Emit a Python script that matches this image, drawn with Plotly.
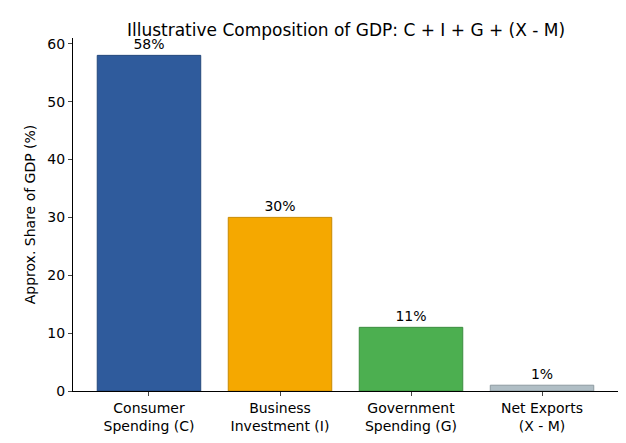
import plotly.graph_objects as go

categories = ["Consumer<br>Spending (C)", "Business<br>Investment (I)", "Government<br>Spending (G)", "Net Exports<br>(X - M)"]
values = [58, 30, 11, 1]
labels = ["58%", "30%", "11%", "1%"]
colors = ["#2f5b9c", "#f5a800", "#4caf50", "#b0bec5"]
edges = ["#24487c", "#c98a00", "#3b8c3f", "#8d9aa1"]

fig = go.Figure(go.Bar(
    x=categories, y=values, text=labels, textposition="outside",
    marker=dict(color=colors, line=dict(color=edges, width=1)),
    textfont=dict(size=14, color="black"), cliponaxis=False))

fig.update_layout(
    width=626, height=443, plot_bgcolor="white", paper_bgcolor="white",
    font=dict(family="DejaVu Sans", size=14, color="black"),
    margin=dict(l=65, r=16, t=30, b=60, autoexpand=False),
    bargap=0.21, showlegend=False,
    title=dict(text="Illustrative Composition of GDP: C + I + G + (X - M)", x=0.54, xanchor="center",
               y=0.95, yanchor="middle", font=dict(size=17)),
    xaxis=dict(range=[-0.58, 3.58], showline=True, linecolor="black", ticks="outside",
               ticklen=4, tickfont=dict(size=14), showgrid=False, automargin=False),
    yaxis=dict(range=[0, 61], showline=True, linecolor="black", ticks="outside", ticklen=4,
               dtick=10, showgrid=False, zeroline=False, tickfont=dict(size=14), automargin=False,
               title=dict(text="Approx. Share of GDP (%)", font=dict(size=14), standoff=8)),
)
fig.write_html("out.html")
